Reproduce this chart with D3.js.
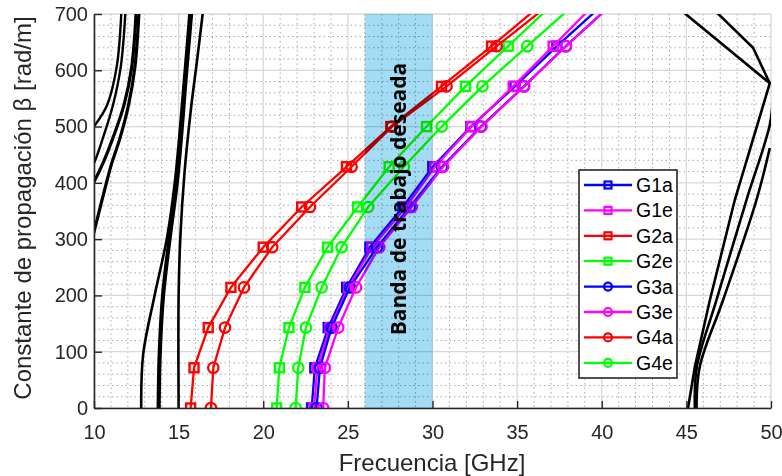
<!DOCTYPE html>
<html>
<head>
<meta charset="utf-8">
<script src="https://cdn.jsdelivr.net/npm/d3@7"></script>
<style>
  body { margin: 0; background: #fff; }
  svg { display: block; }
</style>
</head>
<body>
<svg id="chart" width="782" height="476"></svg>
<script>
// Propagation constant (rad/m) at which every dispersion curve is sampled
const beta = [0, 71.43, 142.86, 214.29, 285.71, 357.14, 428.57, 500, 571.43, 642.86, 714.29];

// Frequency (GHz) of each guide at those beta values
const G1a = [22.86, 23.05, 23.84, 24.93, 26.30, 28.25, 30.02, 32.27, 34.87, 37.35, 39.98];
const G1e = [23.00, 23.20, 23.95, 25.05, 26.42, 28.43, 30.14, 32.31, 34.77, 37.13, 39.47];
const G2a = [15.71, 15.91, 16.75, 18.09, 20.00, 22.27, 24.92, 27.54, 30.53, 33.49, 36.33];
const G2e = [20.79, 20.95, 21.52, 22.46, 23.80, 25.58, 27.44, 29.65, 31.95, 34.47, 37.00];
const G3a = [23.15, 23.35, 24.04, 25.12, 26.72, 28.66, 30.56, 32.86, 35.40, 37.88, 40.48];
const G3e = [23.54, 23.64, 24.43, 25.48, 26.85, 28.77, 30.63, 32.90, 35.42, 37.88, 40.50];
const G4a = [16.91, 17.05, 17.74, 18.86, 20.53, 22.76, 25.22, 27.60, 30.83, 33.79, 36.80];
const G4e = [21.91, 22.07, 22.52, 23.45, 24.63, 26.20, 28.31, 30.54, 32.95, 35.60, 38.28];

const seriesNames  = ["G1a", "G1e", "G2a", "G2e", "G3a", "G3e", "G4a", "G4e"];
const seriesValues = [G1a, G1e, G2a, G2e, G3a, G3e, G4a, G4e];
const seriesColors = ["#0000ff", "#ff00ff", "#ff0000", "#00ff00", "#0000ff", "#ff00ff", "#ff0000", "#00ff00"];
const seriesMarkers = ["square", "square", "square", "square", "circle", "circle", "circle", "circle"];

// Other modes, drawn in black: [frequency GHz, beta rad/m]
const leftModes = [
  [[11.62, 705], [11.34, 606], [10.77, 538], [10.00, 500], [9.8, 492]],
  [[11.86, 705], [11.58, 606], [11.12, 538], [10.53, 480], [10.00, 435], [9.8, 425]],
  [[12.49, 705], [12.23, 606], [11.77, 538], [11.12, 480], [10.53, 435], [10.00, 402], [9.8, 392]],
  [[12.66, 705], [12.42, 606], [12.04, 538], [11.54, 480], [11.05, 435], [10.75, 402], [10.00, 313], [9.8, 290]]
];
const midModes = [
  [[15.65, 705], [15.36, 598], [14.80, 408], [14.31, 302], [13.58, 200], [12.90, 94], [12.79, 0]],
  [[15.75, 705], [15.45, 598], [14.92, 408], [14.47, 302], [14.08, 200], [13.88, 94], [13.82, 0]],
  [[16.44, 705], [16.10, 620], [15.75, 537], [15.35, 419], [15.10, 302], [15.00, 200], [15.00, 0]]
];
const rightModes = [
  [[44.75, 705], [49.93, 577], [47.86, 369.5], [46.39, 191.9], [45.50, 73.4], [45.10, 0]],
  [[46.72, 705], [48.94, 640], [49.93, 577]],
  [[50.10, 547], [49.93, 503], [48.55, 369.5], [46.78, 191.9], [45.62, 73.4], [45.50, 0]],
  [[49.93, 462], [49.14, 369.5], [47.17, 191.9], [45.79, 73.4], [45.60, 0]]
];

const xTicks = [10, 15, 20, 25, 30, 35, 40, 45, 50];
const yTicks = [0, 100, 200, 300, 400, 500, 600, 700];
const xMinor = [11,12,13,14,16,17,18,19,21,22,23,24,26,27,28,29,31,32,33,34,36,37,38,39,41,42,43,44,46,47,48,49];
const yMinor = [20,40,60,80,120,140,160,180,220,240,260,280,320,340,360,380,420,440,460,480,520,540,560,580,620,640,660,680];
const band = [26, 30];
const bandLabel = "Banda de trabajo deseada";
const xTitle = "Frecuencia [GHz]";
const yTitle = "Constante de propagación β [rad/m]";

const svg = d3.select("#chart");
const pLeft = 94, pRight = 771, pTop = 14, pBottom = 408;
const x = d3.scaleLinear().domain([10, 50]).range([pLeft, pRight]);
const y = d3.scaleLinear().domain([0, 700]).range([pBottom, pTop]);
const axisColor = "#262626";
const font = "'Liberation Sans', Arial, sans-serif";

svg.append("defs").append("clipPath").attr("id", "plotClip")
  .append("rect").attr("x", pLeft).attr("y", pTop)
  .attr("width", pRight - pLeft).attr("height", pBottom - pTop);

// grid
const grid = svg.append("g");
grid.selectAll(".xm").data(xMinor).join("line")
  .attr("x1", d => x(d)).attr("x2", d => x(d)).attr("y1", pTop).attr("y2", pBottom)
  .attr("stroke", "#aaaaaa").attr("stroke-width", 1).attr("stroke-dasharray", "1.5,3");
grid.selectAll(".ym").data(yMinor).join("line")
  .attr("y1", d => y(d)).attr("y2", d => y(d)).attr("x1", pLeft).attr("x2", pRight)
  .attr("stroke", "#aaaaaa").attr("stroke-width", 1).attr("stroke-dasharray", "1.5,3");
grid.selectAll(".xM").data(xTicks).join("line")
  .attr("x1", d => x(d)).attr("x2", d => x(d)).attr("y1", pTop).attr("y2", pBottom)
  .attr("stroke", "#d8d8d8").attr("stroke-width", 1.3);
grid.selectAll(".yM").data(yTicks).join("line")
  .attr("y1", d => y(d)).attr("y2", d => y(d)).attr("x1", pLeft).attr("x2", pRight)
  .attr("stroke", "#d8d8d8").attr("stroke-width", 1.3);

const plot = svg.append("g").attr("clip-path", "url(#plotClip)");

// black mode curves
const smooth = d3.line().x(d => x(d[0])).y(d => y(d[1])).curve(d3.curveCatmullRom.alpha(0.5));
const straight = d3.line().x(d => x(d[0])).y(d => y(d[1]));
leftModes.forEach((c, i) => plot.append("path").attr("d", smooth(c)).attr("fill", "none")
  .attr("stroke", "#000").attr("stroke-width", i >= 2 ? 3.2 : 2.4));
midModes.forEach((c, i) => plot.append("path").attr("d", smooth(c)).attr("fill", "none")
  .attr("stroke", "#000").attr("stroke-width", i === 1 ? 4.2 : 2.6));
rightModes.forEach((c, i) => plot.append("path").attr("d", i < 2 ? straight(c) : smooth(c)).attr("fill", "none")
  .attr("stroke", "#000").attr("stroke-width", 2.6));

// coloured dispersion curves
const line = d3.line().x(d => x(d[0])).y(d => y(d[1]));
seriesValues.forEach((vals, i) => {
  const pts = vals.map((f, k) => [f, beta[k]]);
  const g = plot.append("g");
  g.append("path").attr("d", line(pts)).attr("fill", "none")
    .attr("stroke", seriesColors[i]).attr("stroke-width", 2.3);
  if (seriesMarkers[i] === "square") {
    g.selectAll("rect").data(pts).join("rect")
      .attr("x", d => x(d[0]) - 4.5).attr("y", d => y(d[1]) - 4.5)
      .attr("width", 9).attr("height", 9)
      .attr("fill", "none").attr("stroke", seriesColors[i]).attr("stroke-width", 2.4);
  } else {
    g.selectAll("circle").data(pts).join("circle")
      .attr("cx", d => x(d[0])).attr("cy", d => y(d[1])).attr("r", 5.2)
      .attr("fill", "none").attr("stroke", seriesColors[i]).attr("stroke-width", 2.3);
  }
});

// working band
svg.append("rect")
  .attr("x", x(band[0])).attr("y", pTop)
  .attr("width", x(band[1]) - x(band[0])).attr("height", pBottom - pTop)
  .attr("fill", "#a3dcf4").style("mix-blend-mode", "multiply");
svg.append("text")
  .attr("transform", `translate(${(x(band[0]) + x(band[1])) / 2 + 7.5},199) rotate(-90)`)
  .attr("text-anchor", "middle")
  .attr("font-family", "'Open Sans', sans-serif").attr("font-weight", "bold")
  .attr("font-size", 21).attr("fill", "#000")
  .text(bandLabel);

// axes
const xAxis = d3.axisBottom(x).tickValues(xTicks).tickSizeInner(-7).tickSizeOuter(0).tickPadding(17);
const yAxis = d3.axisLeft(y).tickValues(yTicks).tickSizeInner(-8).tickSizeOuter(0).tickPadding(6);
const gx = svg.append("g").attr("transform", `translate(0,${pBottom})`).call(xAxis);
const gy = svg.append("g").attr("transform", `translate(${pLeft},0)`).call(yAxis);
[gx, gy].forEach(g => {
  g.select(".domain").attr("stroke", axisColor).attr("stroke-width", 1.6);
  g.selectAll(".tick line").attr("stroke", axisColor).attr("stroke-width", 1.4);
  g.selectAll(".tick text").attr("fill", axisColor).attr("font-size", 20).attr("font-family", font);
});

svg.append("text").attr("x", 432).attr("y", 471).attr("text-anchor", "middle")
  .attr("font-family", font).attr("font-size", 24).attr("fill", axisColor).text(xTitle);
svg.append("text").attr("transform", "translate(31,208) rotate(-90)").attr("text-anchor", "middle")
  .attr("font-family", font).attr("font-size", 24).attr("fill", axisColor).text(yTitle);

// legend
const lg = svg.append("g");
lg.append("rect").attr("x", 579).attr("y", 170).attr("width", 98).attr("height", 208)
  .attr("fill", "#fff").attr("stroke", axisColor).attr("stroke-width", 1.6);
seriesNames.forEach((name, i) => {
  const cy = 185 + i * 25.4;
  lg.append("line").attr("x1", 584).attr("x2", 632).attr("y1", cy).attr("y2", cy)
    .attr("stroke", seriesColors[i]).attr("stroke-width", 2.3);
  if (seriesMarkers[i] === "square") {
    lg.append("rect").attr("x", 604.5).attr("y", cy - 3.5).attr("width", 7).attr("height", 7)
      .attr("fill", "none").attr("stroke", seriesColors[i]).attr("stroke-width", 2.2);
  } else {
    lg.append("circle").attr("cx", 608).attr("cy", cy).attr("r", 4)
      .attr("fill", "none").attr("stroke", seriesColors[i]).attr("stroke-width", 2.2);
  }
  lg.append("text").attr("x", 636).attr("y", cy).attr("dy", "0.36em")
    .attr("font-family", font).attr("font-size", 19.5).attr("fill", "#000").text(name);
});
</script>
</body>
</html>
